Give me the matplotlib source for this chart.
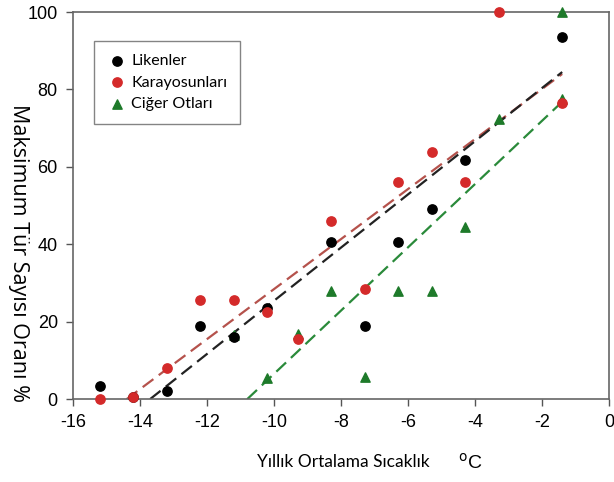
import numpy as np
import matplotlib
matplotlib.use('Agg')
import matplotlib.pyplot as plt

plt.rcParams['font.family'] = ['Liberation Sans', 'DejaVu Sans']
plt.rcParams['axes.unicode_minus'] = False

# Yıllık ortalama sıcaklık (°C) ve maksimum tür sayısı oranı (%)
lik_x = [-15.2, -14.2, -13.2, -12.2, -11.2, -10.2, -8.3, -7.3, -6.3, -5.3, -4.3, -1.4]
lik_y = [3.4, 0.5, 2.0, 19.0, 16.0, 23.5, 40.5, 19.0, 40.5, 49.0, 61.8, 93.5]

kar_x = [-15.2, -14.2, -13.2, -12.2, -11.2, -10.2, -9.3, -8.3, -7.3, -6.3, -5.3, -4.3, -3.3, -1.4]
kar_y = [0.0, 0.5, 8.0, 25.5, 25.5, 22.5, 15.5, 46.0, 28.5, 56.0, 63.8, 56.0, 100.0, 76.5]

cig_x = [-11.2, -10.2, -9.3, -8.3, -7.3, -6.3, -5.3, -4.3, -3.3, -1.4, -1.4]
cig_y = [16.5, 5.5, 16.8, 28.0, 5.7, 28.0, 28.0, 44.5, 72.4, 100.0, 77.5]

# Eğilim çizgileri: başlangıç ve bitiş noktaları
lik_fit_x, lik_fit_y = [-13.7, -1.4], [0.0, 84.5]
kar_fit_x, kar_fit_y = [-14.4, -1.4], [0.0, 84.0]
cig_fit_x, cig_fit_y = [-10.8, -1.5], [0.0, 76.0]

c_black = '#000000'
c_red = '#d42a2a'
c_green = '#1e7a2a'

fig = plt.figure(figsize=(6.14, 4.82), dpi=100)
ax = fig.add_axes([0.119, 0.172, 0.873, 0.803])

dash = (0, (6, 3))
ax.plot(kar_fit_x, kar_fit_y, color='#b5524c', lw=1.6, linestyle=dash, zorder=2)
ax.plot(lik_fit_x, lik_fit_y, color='#222222', lw=1.6, linestyle=dash, zorder=2)
ax.plot(cig_fit_x, cig_fit_y, color='#2a8a3a', lw=1.6, linestyle=dash, zorder=2)

ax.scatter(cig_x, cig_y, marker='^', s=45, color=c_green, zorder=3, label='Ciğer Otları', clip_on=False)
ax.scatter(lik_x, lik_y, marker='o', s=45, color=c_black, zorder=4, label='Likenler', clip_on=False)
ax.scatter(kar_x, kar_y, marker='o', s=45, color=c_red, zorder=5, label='Karayosunları', clip_on=False)

ax.set_xlim(-16, 0)
ax.set_ylim(0, 100)
ax.set_xticks(np.arange(-16, 1, 2))
ax.set_yticks(np.arange(0, 101, 20))
ax.tick_params(direction='out', length=5, width=1, color='#555555', labelsize=13, pad=6)
for sp in ax.spines.values():
    sp.set_color('#666666')
    sp.set_linewidth(1.2)

fig.text(0.03, 0.475, 'Maksimum Tür Sayısı Oranı %', rotation=270,
         ha='center', va='center', fontsize=15.5, family=['Open Sans', 'DejaVu Sans'])
fig.text(0.559, 0.041, 'Yıllık Ortalama Sıcaklık', ha='center', va='center',
         fontsize=12.5, family=['Lato', 'DejaVu Sans'])
fig.text(0.765, 0.04, '$^{\\mathrm{o}}$C', ha='center', va='center', fontsize=14)

handles, labels = ax.get_legend_handles_labels()
order = [1, 2, 0]
leg = ax.legend([handles[i] for i in order], [labels[i] for i in order],
                loc='upper left', bbox_to_anchor=(0.025, 0.945),
                prop={'family': ['Lato', 'DejaVu Sans'], 'size': 11.5},
                frameon=True, fancybox=False, edgecolor='#666666',
                handletextpad=0.3, borderpad=0.8, labelspacing=0.45, handlelength=1.2)
leg.get_frame().set_linewidth(1.0)

fig.savefig('out.png', dpi=100)
